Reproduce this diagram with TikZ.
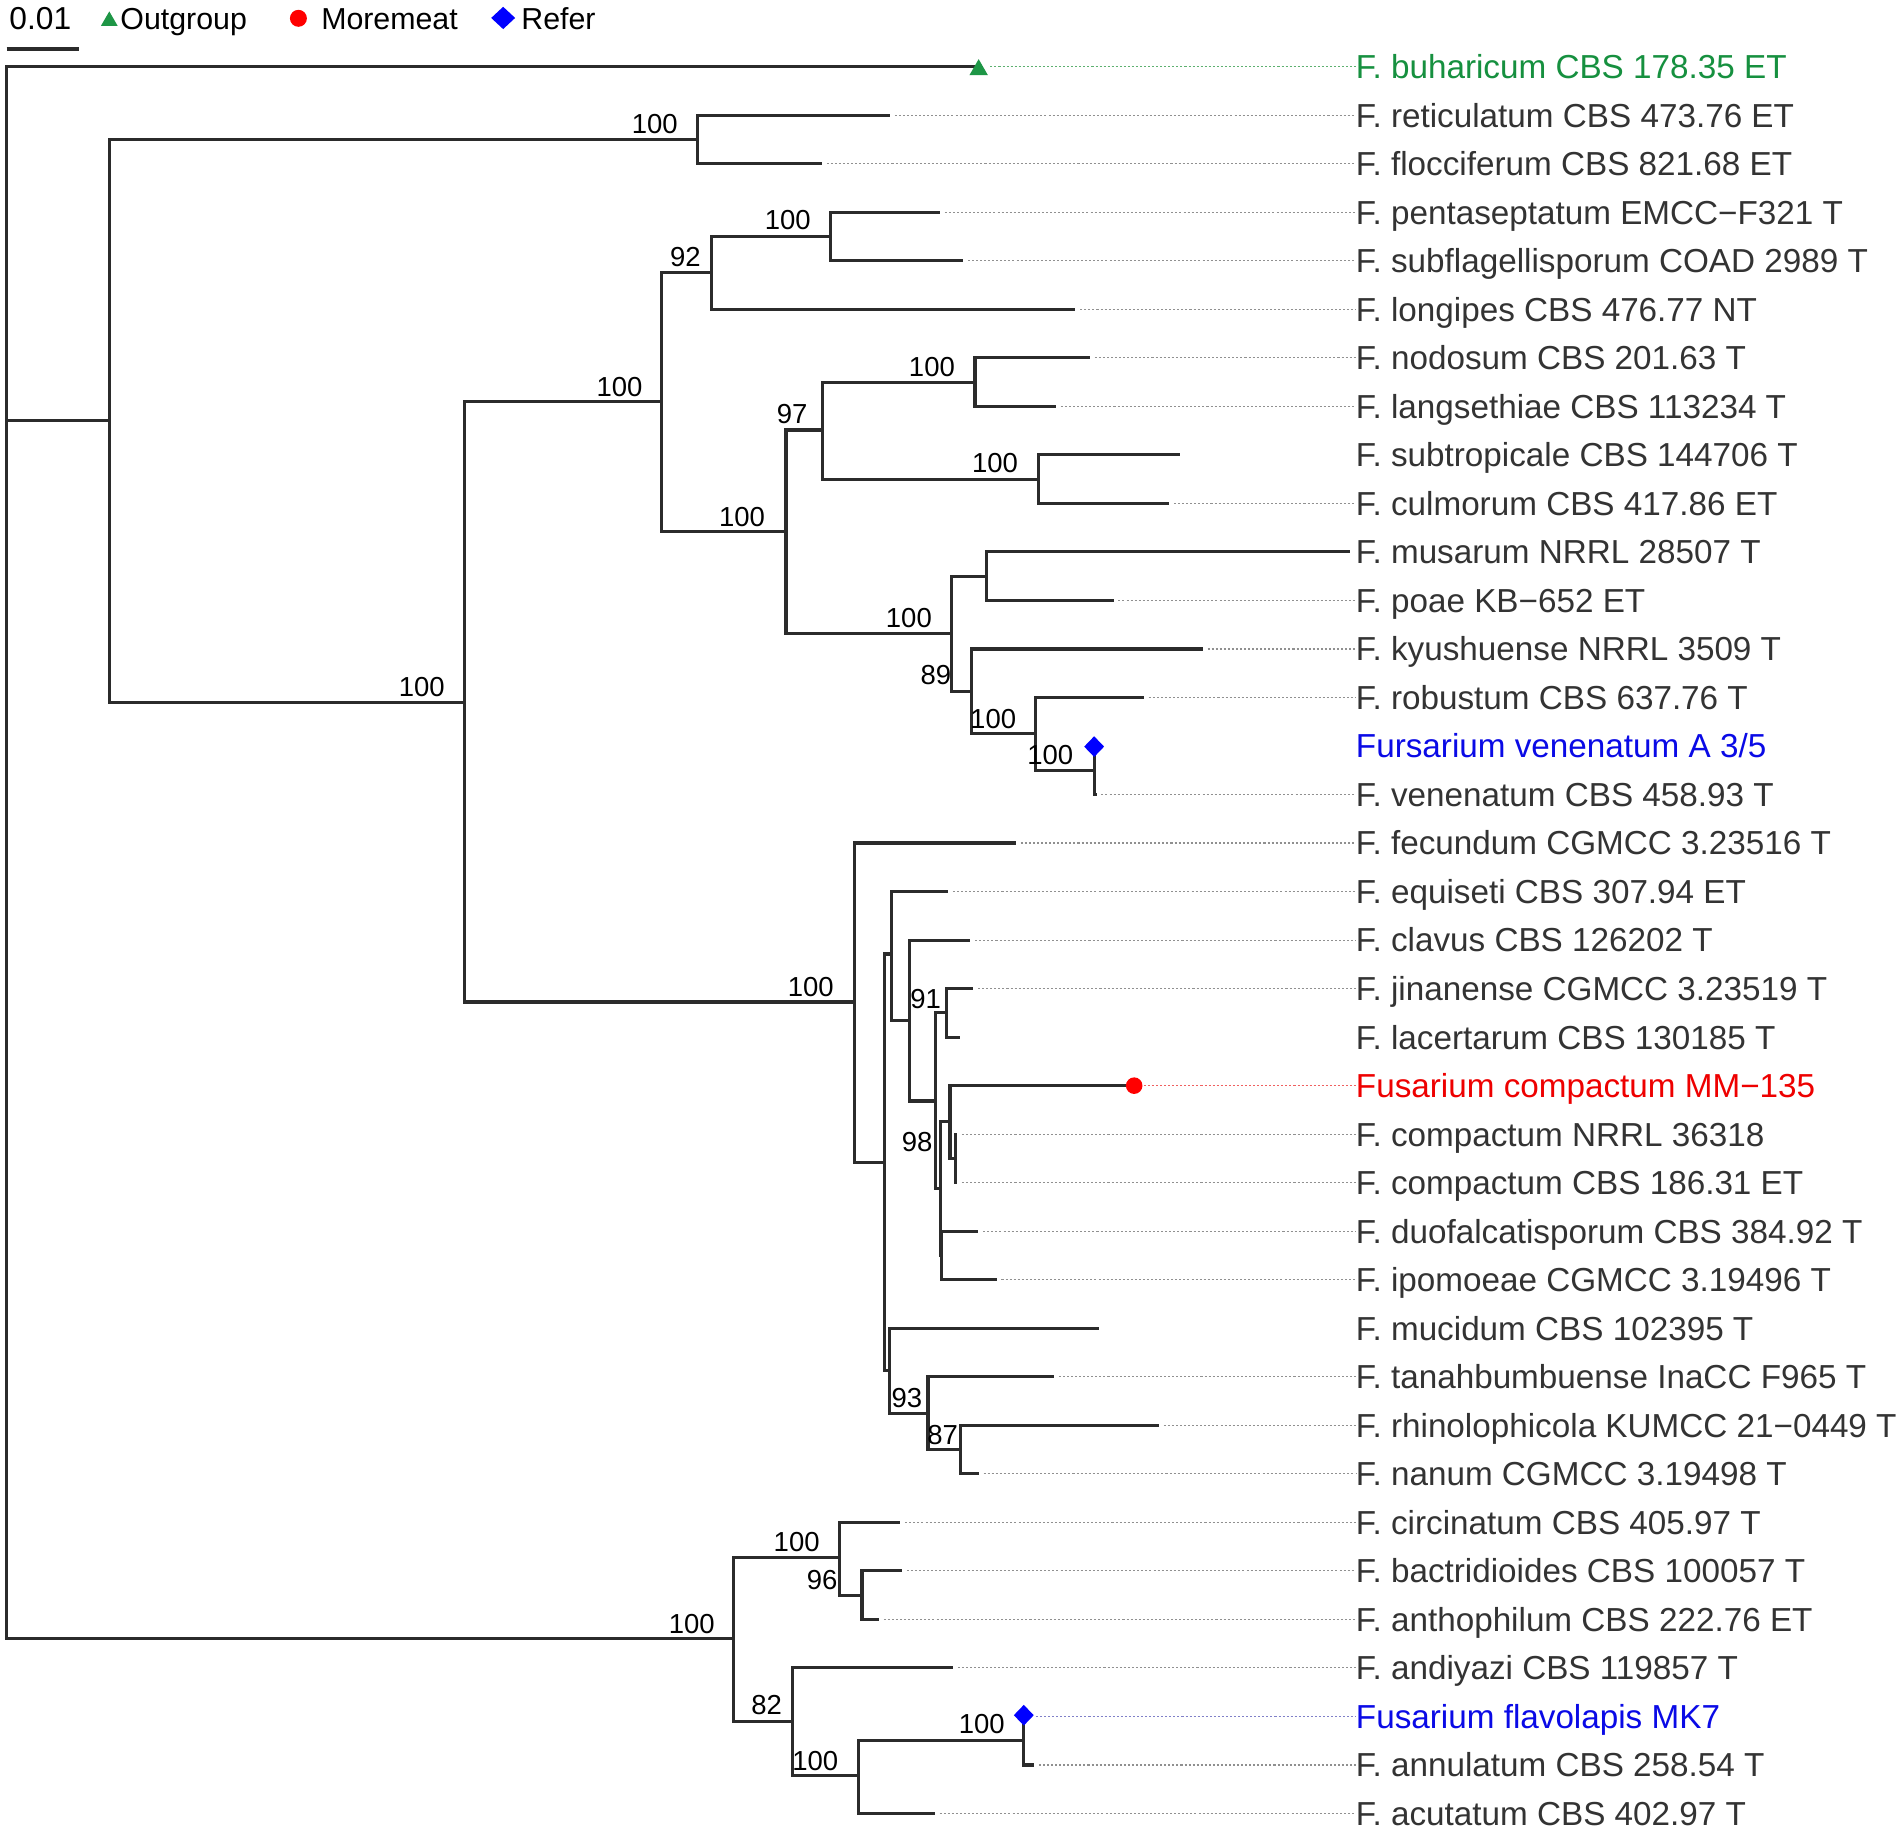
\documentclass[tikz,border=0pt]{standalone}
\usepackage{fontspec}
\setmainfont{Liberation Sans}
\usetikzlibrary{shapes.geometric}
\definecolor{brc}{HTML}{2B2B2B}
\definecolor{labc}{HTML}{333333}
\definecolor{dotc}{HTML}{909090}
\definecolor{grn}{HTML}{1E9646}
\definecolor{grntxt}{HTML}{16903F}
\definecolor{grndot}{HTML}{5DB070}
\definecolor{redc}{HTML}{FF0000}
\definecolor{redtxt}{HTML}{EE0000}
\definecolor{reddot}{HTML}{F06060}
\definecolor{bluec}{HTML}{0000FF}
\definecolor{bluetxt}{HTML}{0A0AE6}
\definecolor{bluedot}{HTML}{8080C8}
\begin{document}
\begin{tikzpicture}[x=0.6pt,y=-0.6pt,
  br/.style={line width=1.55pt, draw=brc, line join=miter},
  dotl/.style={line width=0.55pt, dash pattern=on 1pt off 1pt, draw=dotc},
  tiplab/.style={inner sep=0pt, anchor=base west, text=labc, font=\fontsize{16.45}{18}\selectfont},
  bs/.style={inner sep=0pt, anchor=base east, text=black, font=\fontsize{13.6}{15}\selectfont},
  leg/.style={inner sep=0pt, anchor=base west, text=black, font=\fontsize{15}{17}\selectfont},
  mktri/.style={regular polygon, regular polygon sides=3, fill=grn, inner sep=0pt, minimum size=10.6pt},
  mkdot/.style={circle, fill=redc, inner sep=0pt, minimum size=8.2pt},
  mkdia/.style={diamond, fill=bluec, inner sep=0pt, minimum width=10pt, minimum height=10.4pt},
]
\useasboundingbox[fill=white] (0,0) rectangle (1568,1510);

% ---------- legend ----------
\node[leg, font=\fontsize{15.7}{17}\selectfont] (scl) at (7.4,24.7) {0.01};
\coordinate (sb1) at (5.5,40.4);
\coordinate (sb2) at (65.5,40.4);
\draw[br] (sb1) -- (sb2);
\node[mktri, minimum size=9.6pt] (lgtri) at (90.1,17.4) {};
\node[leg] (lgout) at (99,24) {Outgroup};
\node[mkdot, minimum size=8.4pt] (lgdot) at (246,15.1) {};
\node[leg] (lgmm) at (264.5,24) {Moremeat};
\node[mkdia, minimum width=12pt, minimum height=11.2pt] (lgdia) at (414.8,14.8) {};
\node[leg] (lgref) at (429.5,24) {Refer};

% ---------- tips ----------
\coordinate (t1) at (806.8,55);
\coordinate (t2) at (733.7,95);
\coordinate (t3) at (677.6,135);
\coordinate (t4) at (775,175);
\coordinate (t5) at (794,215);
\coordinate (t6) at (886.6,255);
\coordinate (t7) at (898.6,295);
\coordinate (t8) at (870.6,335);
\coordinate (t9) at (972.4,375);
\coordinate (t10) at (963.9,415);
\coordinate (t11) at (1113,455);
\coordinate (t12) at (918,495);
\coordinate (t13) at (991.5,535);
\coordinate (t14) at (943,575);
\coordinate (t15) at (902,615);
\coordinate (t16) at (904,655);
\coordinate (t17) at (837.6,695);
\coordinate (t18) at (781.6,735);
\coordinate (t19) at (800,775);
\coordinate (t20) at (802.4,815);
\coordinate (t21) at (791.4,855);
\coordinate (t22) at (935,895);
\coordinate (t23) at (789,935);
\coordinate (t24) at (789,975);
\coordinate (t25) at (806.6,1015);
\coordinate (t26) at (821.6,1055);
\coordinate (t27) at (905.8,1095);
\coordinate (t28) at (869,1135);
\coordinate (t29) at (955.5,1175);
\coordinate (t30) at (806.8,1215);
\coordinate (t31) at (742.3,1255);
\coordinate (t32) at (743.6,1295);
\coordinate (t33) at (724.7,1335);
\coordinate (t34) at (785.7,1375);
\coordinate (t35) at (844,1415);
\coordinate (t36) at (852.5,1455);
\coordinate (t37) at (770.7,1495);

% ---------- internal nodes ----------
\coordinate (nR) at (5.5,703);
\coordinate (nU) at (90.2,347);
\coordinate (nA) at (575,115);
\coordinate (nB) at (382.7,579);
\coordinate (nC) at (545,331);
\coordinate (nD) at (586.7,224.5);
\coordinate (nE) at (685,195);
\coordinate (nF) at (648,438.3);
\coordinate (nG) at (678,354.5);
\coordinate (nH) at (803.8,315);
\coordinate (nI) at (856.4,395);
\coordinate (nJ) at (784.7,522);
\coordinate (nK) at (813.4,475);
\coordinate (nL) at (800.8,570);
\coordinate (nM) at (854,604.6);
\coordinate (nN) at (902,635);
\coordinate (nO) at (704.5,826);
\coordinate (nP) at (729,958.5);
\coordinate (nQ) at (735,786.5);
\coordinate (nRr) at (750,841.5);
\coordinate (nS) at (771,907.6);
\coordinate (nT) at (780,835);
\coordinate (nUu) at (775,980);
\coordinate (nV) at (783.2,924.5);
\coordinate (nX) at (787.5,955);
\coordinate (nW) at (776.5,1035);
\coordinate (nY) at (733.6,1130);
\coordinate (nZ) at (765,1165);
\coordinate (nAA) at (792,1195);
\coordinate (nBB) at (605,1351);
\coordinate (nCC) at (692,1284);
\coordinate (nDD) at (710.6,1315);
\coordinate (nEE) at (653,1419);
\coordinate (nFF) at (708,1464);
\coordinate (nGG) at (844,1435);

% ---------- branches ----------
\draw[br] (nR) |- (t1);
\draw[br] (nR) |- (nU);
\draw[br] (nR) |- (nBB);
\draw[br] (nU) |- (nA);
\draw[br] (nU) |- (nB);
\draw[br] (nA) |- (t2);
\draw[br] (nA) |- (t3);
\draw[br] (nB) |- (nC);
\draw[br] (nB) |- (nO);
\draw[br] (nC) |- (nD);
\draw[br] (nC) |- (nF);
\draw[br] (nD) |- (nE);
\draw[br] (nD) |- (t6);
\draw[br] (nE) |- (t4);
\draw[br] (nE) |- (t5);
\draw[br] (nF) |- (nG);
\draw[br] (nF) |- (nJ);
\draw[br] (nG) |- (nH);
\draw[br] (nG) |- (nI);
\draw[br] (nH) |- (t7);
\draw[br] (nH) |- (t8);
\draw[br] (nI) |- (t9);
\draw[br] (nI) |- (t10);
\draw[br] (nJ) |- (nK);
\draw[br] (nJ) |- (nL);
\draw[br] (nK) |- (t11);
\draw[br] (nK) |- (t12);
\draw[br] (nL) |- (t13);
\draw[br] (nL) |- (nM);
\draw[br] (nM) |- (t14);
\draw[br] (nM) |- (nN);
\draw[br] (nN) |- (t15);
\draw[br] (nN) |- (t16);
\draw[br] (nO) |- (t17);
\draw[br] (nO) |- (nP);
\draw[br] (nP) |- (nQ);
\draw[br] (nP) |- (nY);
\draw[br] (nQ) |- (t18);
\draw[br] (nQ) |- (nRr);
\draw[br] (nRr) |- (t19);
\draw[br] (nRr) |- (nS);
\draw[br] (nS) |- (nT);
\draw[br] (nS) |- (nUu);
\draw[br] (nT) |- (t20);
\draw[br] (nT) |- (t21);
\draw[br] (nUu) |- (nV);
\draw[br] (nUu) |- (nW);
\draw[br] (nV) |- (t22);
\draw[br] (nV) |- (nX);
\draw[br] (nX) |- (t23);
\draw[br] (nX) |- (t24);
\draw[br] (nW) |- (t25);
\draw[br] (nW) |- (t26);
\draw[br] (nY) |- (t27);
\draw[br] (nY) |- (nZ);
\draw[br] (nZ) |- (t28);
\draw[br] (nZ) |- (nAA);
\draw[br] (nAA) |- (t29);
\draw[br] (nAA) |- (t30);
\draw[br] (nBB) |- (nCC);
\draw[br] (nBB) |- (nEE);
\draw[br] (nCC) |- (t31);
\draw[br] (nCC) |- (nDD);
\draw[br] (nDD) |- (t32);
\draw[br] (nDD) |- (t33);
\draw[br] (nEE) |- (t34);
\draw[br] (nEE) |- (nFF);
\draw[br] (nFF) |- (nGG);
\draw[br] (nFF) |- (t37);
\draw[br] (nGG) |- (t35);
\draw[br] (nGG) |- (t36);

% ---------- bootstrap values ----------
\node[bs] (bA) at (559,110) {100};
\node[bs] (bB) at (367,574.3) {100};
\node[bs] (bC) at (530,327) {100};
\node[bs] (bD) at (578,220) {92};
\node[bs] (bE) at (668.6,189.6) {100};
\node[bs] (bF) at (631,433.7) {100};
\node[bs] (bG) at (666,349.5) {97};
\node[bs] (bH) at (787.5,310) {100};
\node[bs] (bI) at (839.5,389.5) {100};
\node[bs] (bJ) at (768.5,517) {100};
\node[bs] (bL) at (784.5,564.7) {89};
\node[bs] (bM) at (838,600.4) {100};
\node[bs] (bN) at (885,630) {100};
\node[bs] (bO) at (687.7,821.6) {100};
\node[bs] (bT) at (776,831.3) {91};
\node[bs] (bX) at (769,949.5) {98};
\node[bs] (bZ) at (760.6,1160.3) {93};
\node[bs] (bAA) at (790,1190.8) {87};
\node[bs] (bBB) at (589.5,1346.5) {100};
\node[bs] (bCC) at (676,1279.4) {100};
\node[bs] (bDD) at (690.7,1310) {96};
\node[bs] (bEE) at (645,1413.7) {82};
\node[bs] (bFF) at (691.4,1459.5) {100};
\node[bs] (bGG) at (828.6,1429) {100};

% ---------- tip labels ----------
\node[tiplab, text=grntxt] (l1) at (1117.5,64.8) {F. buharicum CBS 178.35 ET};
\node[tiplab] (l2) at (1117.5,104.8) {F. reticulatum CBS 473.76 ET};
\node[tiplab] (l3) at (1117.5,144.8) {F. flocciferum CBS 821.68 ET};
\node[tiplab] (l4) at (1117.5,184.8) {F. pentaseptatum EMCC−F321 T};
\node[tiplab] (l5) at (1117.5,224.8) {F. subflagellisporum COAD 2989 T};
\node[tiplab] (l6) at (1117.5,264.8) {F. longipes CBS 476.77 NT};
\node[tiplab] (l7) at (1117.5,304.8) {F. nodosum CBS 201.63 T};
\node[tiplab] (l8) at (1117.5,344.8) {F. langsethiae CBS 113234 T};
\node[tiplab] (l9) at (1117.5,384.8) {F. subtropicale CBS 144706 T};
\node[tiplab] (l10) at (1117.5,424.8) {F. culmorum CBS 417.86 ET};
\node[tiplab] (l11) at (1117.5,464.8) {F. musarum NRRL 28507 T};
\node[tiplab] (l12) at (1117.5,504.8) {F. poae KB−652 ET};
\node[tiplab] (l13) at (1117.5,544.8) {F. kyushuense NRRL 3509 T};
\node[tiplab] (l14) at (1117.5,584.8) {F. robustum CBS 637.76 T};
\node[tiplab, text=bluetxt] (l15) at (1117.5,624.8) {Fursarium venenatum A 3/5};
\node[tiplab] (l16) at (1117.5,664.8) {F. venenatum CBS 458.93 T};
\node[tiplab] (l17) at (1117.5,704.8) {F. fecundum CGMCC 3.23516 T};
\node[tiplab] (l18) at (1117.5,744.8) {F. equiseti CBS 307.94 ET};
\node[tiplab] (l19) at (1117.5,784.8) {F. clavus CBS 126202 T};
\node[tiplab] (l20) at (1117.5,824.8) {F. jinanense CGMCC 3.23519 T};
\node[tiplab] (l21) at (1117.5,864.8) {F. lacertarum CBS 130185 T};
\node[tiplab, text=redtxt] (l22) at (1117.5,904.8) {Fusarium compactum MM−135};
\node[tiplab] (l23) at (1117.5,944.8) {F. compactum NRRL 36318};
\node[tiplab] (l24) at (1117.5,984.8) {F. compactum CBS 186.31 ET};
\node[tiplab] (l25) at (1117.5,1024.8) {F. duofalcatisporum CBS 384.92 T};
\node[tiplab] (l26) at (1117.5,1064.8) {F. ipomoeae CGMCC 3.19496 T};
\node[tiplab] (l27) at (1117.5,1104.8) {F. mucidum CBS 102395 T};
\node[tiplab] (l28) at (1117.5,1144.8) {F. tanahbumbuense InaCC F965 T};
\node[tiplab] (l29) at (1117.5,1184.8) {F. rhinolophicola KUMCC 21−0449 T};
\node[tiplab] (l30) at (1117.5,1224.8) {F. nanum CGMCC 3.19498 T};
\node[tiplab] (l31) at (1117.5,1264.8) {F. circinatum CBS 405.97 T};
\node[tiplab] (l32) at (1117.5,1304.8) {F. bactridioides CBS 100057 T};
\node[tiplab] (l33) at (1117.5,1344.8) {F. anthophilum CBS 222.76 ET};
\node[tiplab] (l34) at (1117.5,1384.8) {F. andiyazi CBS 119857 T};
\node[tiplab, text=bluetxt] (l35) at (1117.5,1424.8) {Fusarium flavolapis MK7};
\node[tiplab] (l36) at (1117.5,1464.8) {F. annulatum CBS 258.54 T};
\node[tiplab] (l37) at (1117.5,1504.8) {F. acutatum CBS 402.97 T};

% ---------- dotted leaders ----------
\draw[dotl, draw=grndot] ([xshift=5.8pt]t1) -- (t1 -| l1.west);
\draw[dotl] ([xshift=2.4pt]t2) -- (t2 -| l2.west);
\draw[dotl] ([xshift=2.4pt]t3) -- (t3 -| l3.west);
\draw[dotl] ([xshift=2.4pt]t4) -- (t4 -| l4.west);
\draw[dotl] ([xshift=2.4pt]t5) -- (t5 -| l5.west);
\draw[dotl] ([xshift=2.4pt]t6) -- (t6 -| l6.west);
\draw[dotl] ([xshift=2.4pt]t7) -- (t7 -| l7.west);
\draw[dotl] ([xshift=2.4pt]t8) -- (t8 -| l8.west);
\draw[dotl] ([xshift=2.4pt]t10) -- (t10 -| l10.west);
\draw[dotl] ([xshift=2.4pt]t12) -- (t12 -| l12.west);
\draw[dotl] ([xshift=2.4pt]t13) -- (t13 -| l13.west);
\draw[dotl] ([xshift=2.4pt]t14) -- (t14 -| l14.west);
\draw[dotl] ([xshift=2.4pt]t16) -- (t16 -| l16.west);
\draw[dotl] ([xshift=2.4pt]t17) -- (t17 -| l17.west);
\draw[dotl] ([xshift=2.4pt]t18) -- (t18 -| l18.west);
\draw[dotl] ([xshift=2.4pt]t19) -- (t19 -| l19.west);
\draw[dotl] ([xshift=2.4pt]t20) -- (t20 -| l20.west);
\draw[dotl, draw=reddot] ([xshift=4.8pt]t22) -- (t22 -| l22.west);
\draw[dotl] ([xshift=2.4pt]t23) -- (t23 -| l23.west);
\draw[dotl] ([xshift=2.4pt]t24) -- (t24 -| l24.west);
\draw[dotl] ([xshift=2.4pt]t25) -- (t25 -| l25.west);
\draw[dotl] ([xshift=2.4pt]t26) -- (t26 -| l26.west);
\draw[dotl] ([xshift=2.4pt]t28) -- (t28 -| l28.west);
\draw[dotl] ([xshift=2.4pt]t29) -- (t29 -| l29.west);
\draw[dotl] ([xshift=2.4pt]t30) -- (t30 -| l30.west);
\draw[dotl] ([xshift=2.4pt]t31) -- (t31 -| l31.west);
\draw[dotl] ([xshift=2.4pt]t32) -- (t32 -| l32.west);
\draw[dotl] ([xshift=2.4pt]t33) -- (t33 -| l33.west);
\draw[dotl] ([xshift=2.4pt]t34) -- (t34 -| l34.west);
\draw[dotl, draw=bluedot] ([xshift=6pt]t35) -- (t35 -| l35.west);
\draw[dotl] ([xshift=2.4pt]t36) -- (t36 -| l36.west);
\draw[dotl] ([xshift=2.4pt]t37) -- (t37 -| l37.west);

% ---------- markers ----------
\node[mktri] (m1) at (806.8,57.6) {};
\node[mkdia] (m15) at (902,615.5) {};
\node[mkdot] (m22) at (935,895) {};
\node[mkdia] (m35) at (844,1414) {};
\end{tikzpicture}
\end{document}
